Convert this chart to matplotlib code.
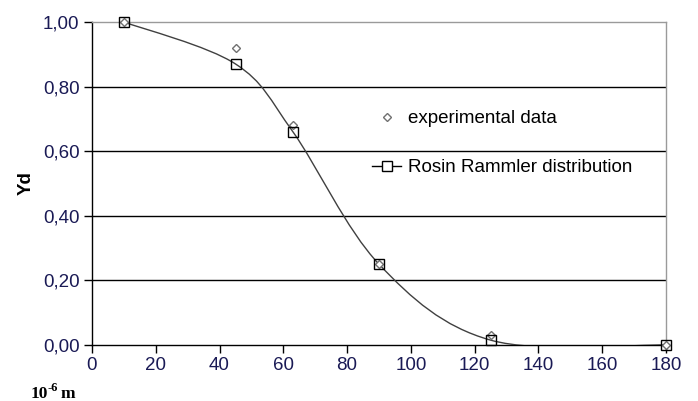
import numpy as np
import matplotlib
matplotlib.use('Agg')
import matplotlib.pyplot as plt
from matplotlib.path import Path
from matplotlib.patches import PathPatch
from matplotlib.lines import Line2D
from matplotlib.ticker import FuncFormatter

# data
size_um = [10, 45, 63, 90, 125, 180]
yd_exp = [1.00, 0.92, 0.68, 0.25, 0.03, 0.00]
yd_rr = [1.00, 0.87, 0.66, 0.25, 0.015, 0.00]
x_ticks = [0, 20, 40, 60, 80, 100, 120, 140, 160, 180]
y_ticks = [0.0, 0.2, 0.4, 0.6, 0.8, 1.0]

plt.rcParams['font.family'] = ['Liberation Sans', 'DejaVu Sans']
tick_col = '#1a1a55'

fig = plt.figure(figsize=(6.98, 4.01), dpi=100)
ax = fig.add_axes([0.1318, 0.1397, 0.8224, 0.8055])

ax.set_xlim(0, 180)
ax.set_ylim(0, 1)

# horizontal gridlines
for v in y_ticks[1:-1]:
    ax.axhline(v, color='black', lw=1.0, zorder=1)

# excel-like smoothed line through the Rosin Rammler points (bezier segments)
pts = np.column_stack([size_um, yd_rr])
n = len(pts)
verts = [pts[0]]
codes = [Path.MOVETO]
for i in range(n - 1):
    p0 = pts[max(i - 1, 0)]
    p1 = pts[i]
    p2 = pts[i + 1]
    p3 = pts[min(i + 2, n - 1)]
    c1 = p1 + (p2 - p0) / 6
    c2 = p2 - (p3 - p1) / 6
    verts += [c1, c2, p2]
    codes += [Path.CURVE4] * 3
curve = PathPatch(Path(verts, codes), facecolor='none', edgecolor='#404040',
                  lw=1.0, zorder=3)
ax.add_patch(curve)

ax.plot(size_um, yd_exp, ls='none', marker='D', ms=4.5, mfc='white',
        mec='#707070', mew=1.0, zorder=4, clip_on=False)
ax.plot(size_um, yd_rr, ls='none', marker='s', ms=6.5, mfc='none',
        mec='black', mew=1.0, zorder=5, clip_on=False)

# spines
for s in ['left', 'bottom']:
    ax.spines[s].set_color('black')
    ax.spines[s].set_linewidth(1.0)
for s in ['top', 'right']:
    ax.spines[s].set_color('#9a9a9a')
    ax.spines[s].set_linewidth(1.0)

ax.set_xticks(x_ticks)
ax.set_yticks(y_ticks)
ax.yaxis.set_major_formatter(FuncFormatter(lambda v, p: f'{v:.2f}'.replace('.', ',')))
ax.tick_params(direction='out', length=6, width=1, colors='black',
               labelsize=13.5, labelcolor=tick_col, pad=3)

ax.set_ylabel('Yd', fontsize=13.5, fontweight='bold', labelpad=6)

# unit label below the axis
fig.text(31 / 698, 1 - 398 / 401, '10', fontsize=12.5, fontweight='bold',
         family='Liberation Serif', va='baseline')
fig.text(48 / 698, 1 - 391 / 401, '-6', fontsize=9, fontweight='bold',
         family='Liberation Serif', va='baseline')
fig.text(61 / 698, 1 - 398 / 401, 'm', fontsize=12.5, fontweight='bold',
         family='Liberation Serif', va='baseline')

handles = [
    Line2D([], [], ls='none', marker='D', ms=4.5, mfc='white', mec='#707070', mew=1.0),
    Line2D([], [], color='black', lw=1.0, marker='s', ms=6.5, mfc='white',
           mec='black', mew=1.0),
]
ax.legend(handles, ['experimental data', 'Rosin Rammler distribution'],
          loc='upper left', bbox_to_anchor=(372 / 698, 1 - 110 / 401),
          bbox_transform=fig.transFigure, frameon=False, fontsize=13.5,
          handlelength=1.55, handletextpad=0.35, labelspacing=1.7,
          borderpad=0, borderaxespad=0)

fig.savefig('out.png', dpi=100)
